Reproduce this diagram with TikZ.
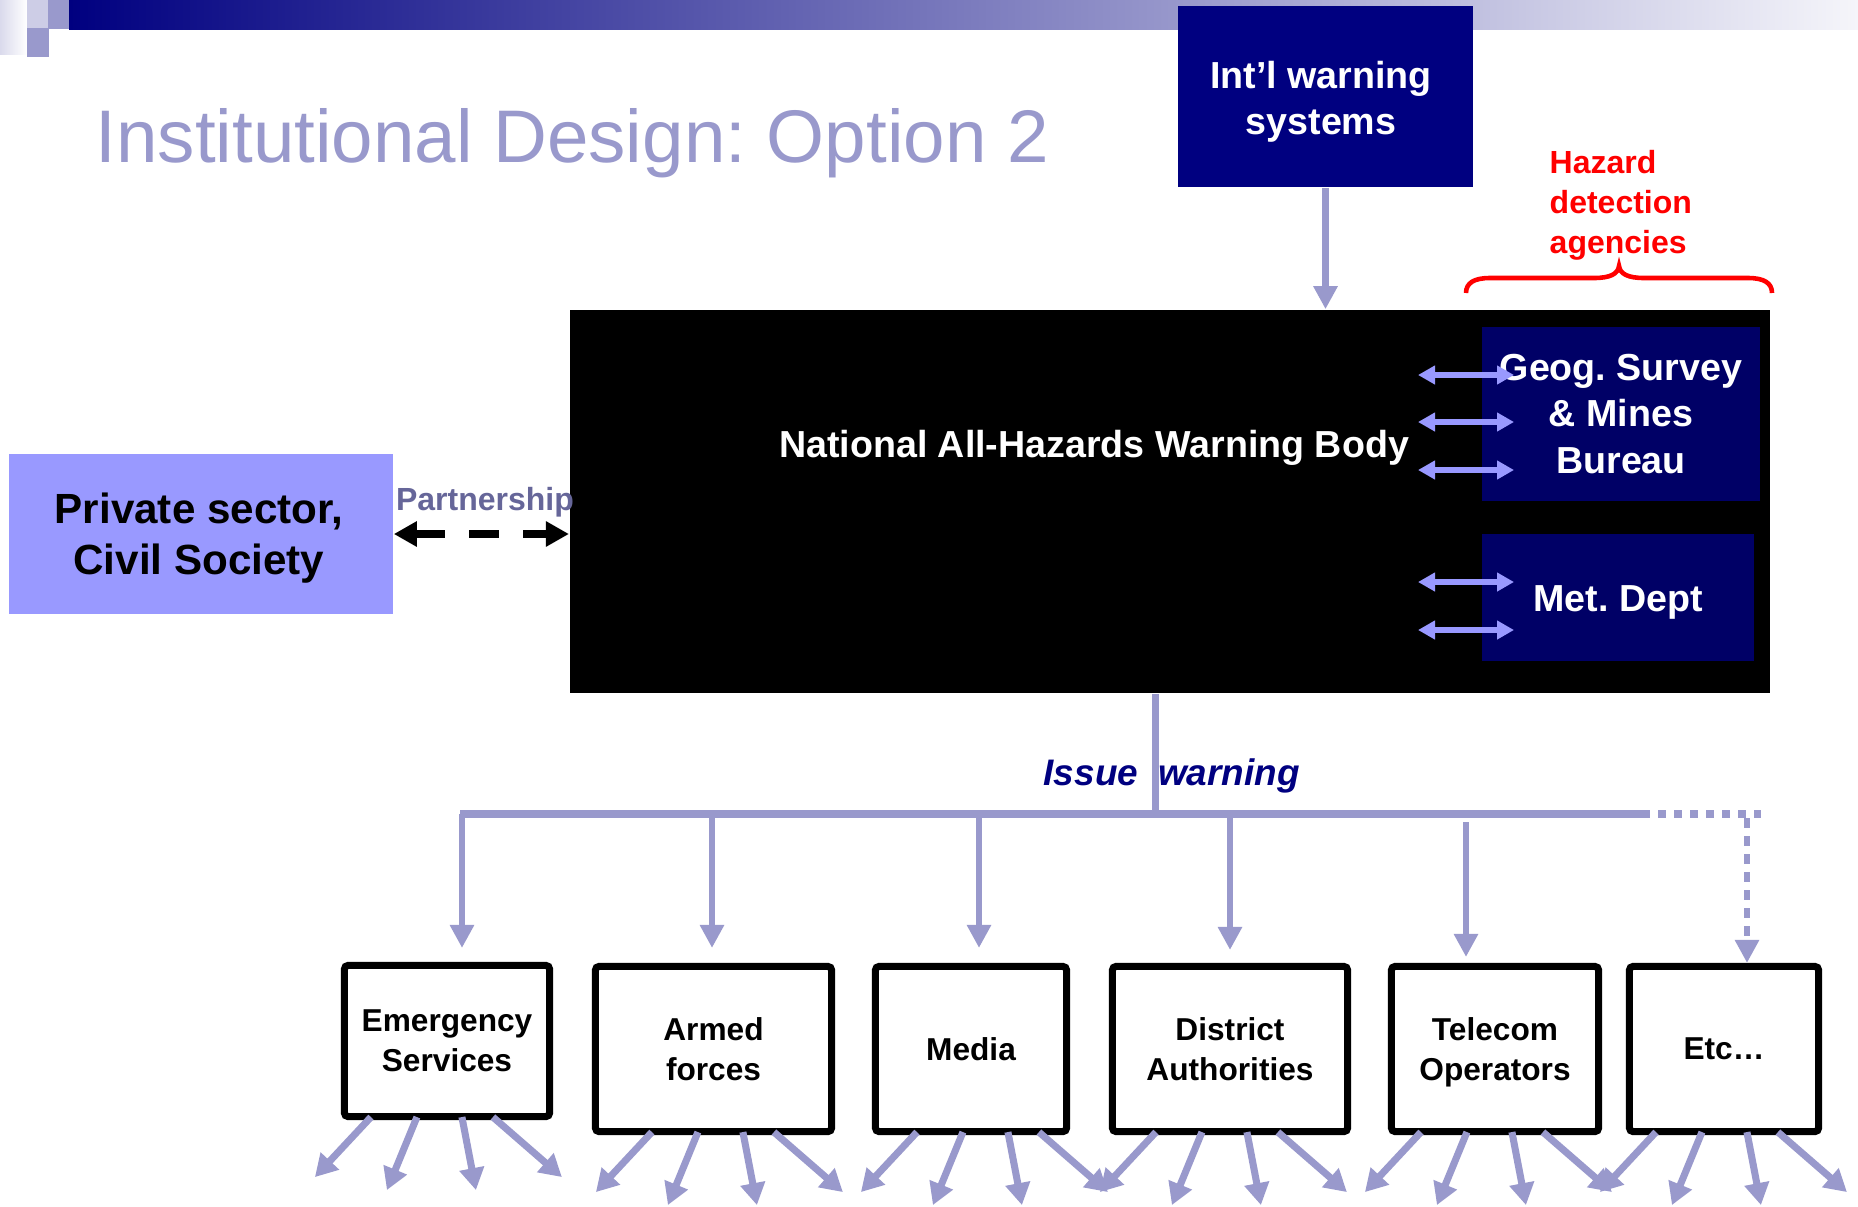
\documentclass[tikz,border=0pt]{standalone}
\usepackage{fontspec}
\setmainfont{Liberation Sans}
\usetikzlibrary{arrows.meta}
\definecolor{navy}{HTML}{000080}
\definecolor{dnavy}{HTML}{000066}
\definecolor{lav}{HTML}{9999CC}
\definecolor{peri}{HTML}{9999FF}
\definecolor{slate}{HTML}{666699}
\definecolor{lightlav}{HTML}{CDCDE6}
\definecolor{paleend}{RGB}{245,245,250}
\definecolor{palestart}{RGB}{218,218,236}
\newcommand\fsz[2]{\fontsize{#1}{#2}\selectfont}
\newcommand\fanout[2]{%
  \foreach \a/\dx/\dy in {0/-56/60, 46/-30/73, 91/14/73, 122/69/60}
    \draw[fanarr] (#1.south west) ++(#2+\a,-3) -- ++(\dx,\dy);}
\frenchspacing
\begin{document}
\frenchspacing
\begin{tikzpicture}[x=0.01cm,y=-0.01cm,
  conn/.style={draw=lav, line width=1.8pt, -{Triangle[length=0.23cm,width=0.23cm]}},
  dbl/.style={draw=peri, line width=1.6pt, {Triangle[length=0.17cm,width=0.18cm]}-{Triangle[length=0.17cm,width=0.18cm]}},
  fanarr/.style={draw=lav, line width=2pt, -{Triangle[length=0.22cm,width=0.24cm]}},
  unit/.style={draw=black, line width=2pt, fill=white, rounded corners=1pt, font=\bfseries\fsz{9}{11.4}, align=center, inner sep=0pt},
  agency/.style={fill=dnavy, text=white, font=\bfseries\fsz{10.7}{13.1}, align=center, inner sep=0pt},
  bus/.style={draw=lav, line width=2pt}]
\useasboundingbox (0,0) rectangle (1858,1206);
\fill[white] (0,0) rectangle (1858,1206);
% top decoration
\fill[left color=palestart, right color=white] (0,0) rectangle (27,54);
\fill[lightlav] (27,0) rectangle (48,28);
\fill[lav] (48,0) rectangle (69,29);
\fill[lav] (27,28) rectangle (49,57);
\fill[left color=navy, right color=paleend] (69,0) rectangle (1858,29);
% title
\node[anchor=base west, text=lav, font=\fsz{21.2}{26}, inner sep=0pt] (title) at (95,162) {Institutional Design: Option 2};
% boxes
\node[fill=navy, minimum width=2.95cm, minimum height=1.81cm, inner sep=0pt] (intl) at (1325.5,96.5) {};
\node[text=white, font=\bfseries\fsz{10.7}{13.1}, align=center, inner sep=0pt] (intltxt) at (1321,102) {Int’l warning\\systems};
\node[fill=black, minimum width=12cm, minimum height=3.83cm, inner sep=0pt] (body) at (1170,501.5) {};
\node[anchor=base, text=white, font=\bfseries\fsz{10.7}{13.1}, inner sep=0pt] (bodytxt) at (1094,457) {National All-Hazards Warning Body};
\node[agency, minimum width=2.78cm, minimum height=1.74cm] (geog) at (1621,414) {Geog. Survey\\\& Mines\\Bureau};
\node[agency, minimum width=2.72cm, minimum height=1.27cm] (met) at (1618,597.5) {};
\node[anchor=base, text=white, font=\bfseries\fsz{10.7}{13.1}, inner sep=0pt] (mettxt) at (1618,611) {Met. Dept};
\node[fill=peri, minimum width=3.84cm, minimum height=1.6cm, inner sep=0pt] (priv) at (201,534) {};
\node[text=black, font=\bfseries\fsz{12}{14.6}, align=center, inner sep=0pt] (privtxt) at (199,538) {Private sector,\\Civil Society};
\node[anchor=west, text=red, font=\bfseries\fsz{9.1}{11.4}, align=left, inner sep=0pt] (haz) at (1549,205) {Hazard\\detection\\agencies};
\node[anchor=base, text=slate, font=\bfseries\fsz{9.1}{11}, inner sep=0pt] (partner) at (485,510) {Partnership};
\node[anchor=base west, text=navy, font=\bfseries\itshape\fsz{10.5}{12}, inner sep=0pt] (issue) at (1043,785) {Issue\hspace{0.2cm}warning};
% bottom units
\node[unit, minimum width=2.05cm, minimum height=1.51cm] (em) at (447,1041) {Emergency\\Services};
\node[unit, minimum width=2.36cm, minimum height=1.65cm] (arm) at (713.5,1049) {Armed\\forces};
\node[unit, minimum width=1.91cm, minimum height=1.65cm] (med) at (971,1049) {Media};
\node[unit, minimum width=2.35cm, minimum height=1.65cm] (dis) at (1230,1049) {District\\Authorities};
\node[unit, minimum width=2.07cm, minimum height=1.65cm] (tel) at (1495,1049) {};
\node[font=\bfseries\fsz{9}{11.4}, align=center, inner sep=0pt] (teltxt) at (1495,1052) {Telecom\\Operators};
\node[unit, minimum width=1.89cm, minimum height=1.65cm] (etc) at (1724,1049) {Etc…};
% brace
\draw[red, line width=1.3pt] (1466,293) .. controls (1466,283) and (1474,278) .. (1490,278) -- (1594,278) .. controls (1610,278) and (1618,274) .. (1619,266) .. controls (1620,274) and (1628,278) .. (1644,278) -- (1748,278) .. controls (1764,278) and (1772,283) .. (1772,293);
% int'l arrow
\draw[conn] (intl.south) -- (intl.south |- body.north);
% double arrows
\foreach \yy [count=\i] in {375,422,470,582,630} {
  \coordinate (dl\i) at (1418,\yy);
  \coordinate (dr\i) at (1514,\yy);
  \draw[dbl] (dl\i) -- (dr\i);
}
% partnership
\draw[black, line width=2.2pt, dash pattern=on 0.3cm off 0.24cm, {Triangle[length=0.23cm,width=0.24cm]}-{Triangle[length=0.23cm,width=0.24cm]}] (priv.east) -- (priv.east -| body.west);
% stem and bus
\coordinate (stem) at (1155,814);
\coordinate (bL) at (460,814);
\coordinate (bR) at (1642,814);
\coordinate (bE) at (1761,814);
\draw[bus] (body.south -| stem) -- (stem);
\draw[bus] (bL) -- (bR);
\draw[bus, dash pattern=on 0.08cm off 0.08cm] (bR) -- (bE);
% drops
\coordinate (d1) at (462,814);
\coordinate (d2) at (712,814);
\coordinate (d3) at (979,814);
\coordinate (d4) at (1230,814);
\coordinate (d5) at (1466,822);
\coordinate (d6) at (1747,818);
\draw[conn, shorten >=0.14cm] (d1) -- (d1 |- em.north);
\draw[conn, shorten >=0.15cm] (d2) -- (d2 |- arm.north);
\draw[conn, shorten >=0.15cm] (d3) -- (d3 |- med.north);
\draw[conn, shorten >=0.13cm] (d4) -- (d4 |- dis.north);
\draw[conn, shorten >=0.06cm] (d5) -- (d5 |- tel.north);
\draw[conn, dash pattern=on 0.1cm off 0.08cm] (d6) -- (d6 |- etc.north);
% fan-out arrows
\fanout{em}{30}
\fanout{arm}{60}
\fanout{med}{45}
\fanout{dis}{47}
\fanout{tel}{33}
\fanout{etc}{30}
\end{tikzpicture}
\end{document}
